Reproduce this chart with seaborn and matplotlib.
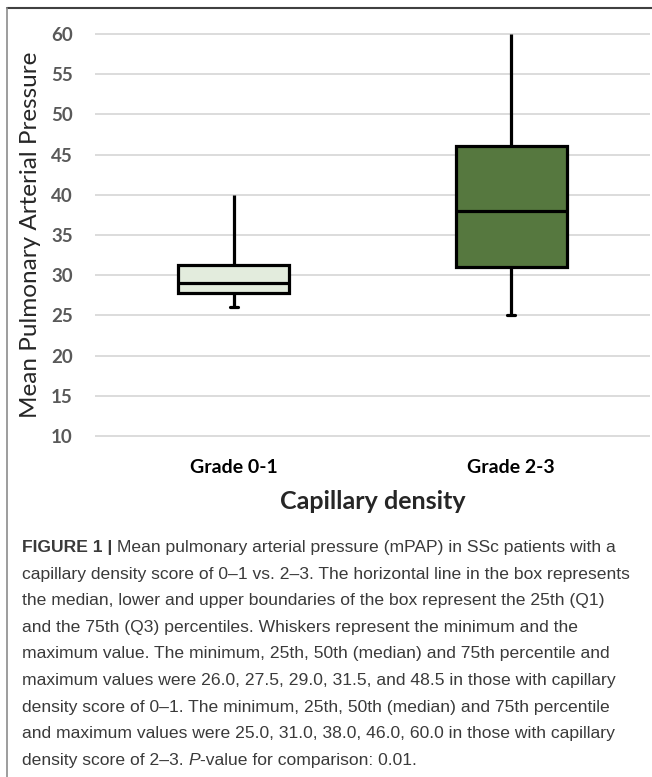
import numpy as np
import pandas as pd
import matplotlib.pyplot as plt
import seaborn as sns
from matplotlib.lines import Line2D

# Valores
grades = ["Grade 0-1", "Grade 2-3"]
minimos = [26.0, 25.0]
q1s = [27.75, 31.0]
medianas = [29.0, 38.0]
q3s = [31.25, 46.0]
maximos = [40.0, 60.0]
colores = ["#E2EFDA", "#548235"]
yticks = [10, 15, 20, 25, 30, 35, 40, 45, 50, 55, 60]

caption_lines = [
    "Mean pulmonary arterial pressure (mPAP) in SSc patients with a",
    "capillary density score of 0–1 vs. 2–3. The horizontal line in the box represents",
    "the median, lower and upper boundaries of the box represent the 25th (Q1)",
    "and the 75th (Q3) percentiles. Whiskers represent the minimum and the",
    "maximum value. The minimum, 25th, 50th (median) and 75th percentile and",
    "maximum values were 26.0, 27.5, 29.0, 31.5, and 48.5 in those with capillary",
    "density score of 0–1. The minimum, 25th, 50th (median) and 75th percentile",
    "and maximum values were 25.0, 31.0, 38.0, 46.0, 60.0 in those with capillary",
    "-value for comparison: 0.01.",
]

# Cinco puntos por grupo -> cuartiles exactos
rows = []
for g, a, b, c, d, e in zip(grades, minimos, q1s, medianas, q3s, maximos):
    for v in (a, b, c, d, e):
        rows.append({"grade": g, "mpap": v})
df = pd.DataFrame(rows)

sns.set_style("white")
plt.rcParams['font.family'] = ['Lato', 'DejaVu Sans']

W, H = 652, 777
fig = plt.figure(figsize=(W / 100, H / 100), dpi=100)
ax = fig.add_axes([95 / W, 1 - 437 / H, 555 / W, (437 - 33) / H])

sns.boxplot(data=df, x="grade", y="mpap", hue="grade", palette=colores,
            order=grades, hue_order=grades, legend=False,
            width=0.4, whis=(0, 100), linewidth=2.3, linecolor="black",
            capwidths=0.03, ax=ax)

# Ocultar los caps superiores (en el original solo aparecen abajo)
for ln in ax.lines:
    y = np.asarray(ln.get_ydata(), dtype=float)
    if len(y) == 2 and y[0] == y[1] and y[0] in maximos:
        ln.set_visible(False)

ax.set_ylim(9.9, 60.1)
ax.set_xlim(-0.5, 1.5)
ax.set_yticks(yticks)
ax.yaxis.grid(True, color="#D9D9D9", linewidth=1.3)
ax.set_axisbelow(True)
for s in ax.spines.values():
    s.set_visible(False)
ax.tick_params(axis="both", length=0)
ax.tick_params(axis="y", labelsize=13.5, labelcolor="#595959", pad=16)
ax.tick_params(axis="x", labelsize=14, labelcolor="#000000", pad=16)
for t in ax.get_yticklabels():
    t.set_fontweight("bold")
for t in ax.get_xticklabels():
    t.set_fontweight("bold")

ax.set_xlabel("Capillary density", fontsize=18, fontweight="bold", labelpad=10)
ax.set_ylabel("Mean Pulmonary Arterial Pressure", fontsize=17.5, labelpad=7)

# Bordes del marco
fig.add_artist(Line2D([7 / W, 1], [1 - 8 / H, 1 - 8 / H], color="#404040", linewidth=1.5))
fig.add_artist(Line2D([7 / W, 7 / W], [0, 1 - 8 / H], color="#8C8C8C", linewidth=1.2))

# Pie de figura
cap_font = ['Liberation Sans Narrow', 'Liberation Sans', 'DejaVu Sans']
cap_col = "#3A3A3A"
cap_size = 12.6
y0 = 552
step = 26.6
t0 = fig.text(22 / W, 1 - y0 / H, "FIGURE 1 | ", family=cap_font, fontweight="bold",
              fontsize=cap_size, color=cap_col, va="baseline")
ax.annotate(caption_lines[0], xy=(1, 0), xycoords=t0, va="bottom",
            family=cap_font, fontsize=cap_size, color=cap_col, annotation_clip=False)
for i, line in enumerate(caption_lines[1:-1], start=1):
    fig.text(22 / W, 1 - (y0 + i * step) / H, line, family=cap_font,
             fontsize=cap_size, color=cap_col, va="baseline")
i = len(caption_lines) - 1
t1 = fig.text(22 / W, 1 - (y0 + i * step) / H, "density score of 2–3. ", family=cap_font,
              fontsize=cap_size, color=cap_col, va="baseline")
t2 = ax.annotate("P", xy=(1, 0), xycoords=t1, va="bottom", family=cap_font,
                 fontsize=cap_size, color=cap_col, style="italic", annotation_clip=False)
ax.annotate(caption_lines[-1], xy=(1, 0), xycoords=t2, va="bottom", family=cap_font,
            fontsize=cap_size, color=cap_col, annotation_clip=False)

fig.savefig("out.png", dpi=100)
